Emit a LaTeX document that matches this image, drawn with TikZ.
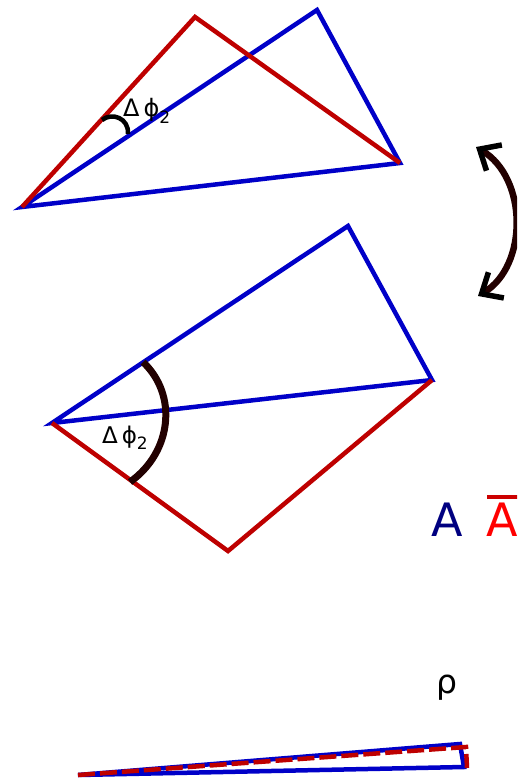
\documentclass[tikz,border=0pt]{standalone}
\usepackage{fontspec}
\setmainfont{DejaVu Sans}
\usetikzlibrary{arrows.meta}
\definecolor{lineblue}{RGB}{0,0,200}
\definecolor{linered}{RGB}{190,0,0}
\definecolor{navyA}{RGB}{0,0,128}
\definecolor{brightred}{RGB}{255,0,0}
\definecolor{barred}{RGB}{204,0,0}
\definecolor{arcdark}{RGB}{34,0,0}
\newcommand{\dphitext}[2]{{\fontsize{#1}{#1}\selectfont Δ\,ϕ\raisebox{-0.3em}{\fontsize{#2}{#2}\selectfont 2}}}

\begin{document}
\begin{tikzpicture}[x=1pt,y=-1pt,
        blueline/.style={draw=lineblue, line width=4.5pt},
        redline/.style={draw=linered, line width=4.5pt},
        reddash/.style={draw=linered, line width=4.5pt, dash pattern=on 17pt off 5pt},
        anglearc/.style={draw=black, line width=4.5pt},
        rotarrow/.style={draw=arcdark, line width=6.5pt, >={Straight Barb[length=17pt, width=30pt, line width=5.5pt, color=black]}, <->},
        lbl/.style={inner sep=0pt}
    ]
        \useasboundingbox (0,0) rectangle (517,779);
        \clip (0,0) rectangle (517,779);

        % Top triangles
        \coordinate (ta) at (22,207);
        \coordinate (tr) at (195,17);
        \coordinate (tb) at (317,10);
        \coordinate (tc) at (400,163);
        \draw[blueline] (ta) -- (tb) -- (tc) -- cycle;
        \draw[redline] (ta) -- (tr) -- (tc);
        \draw[anglearc] (102,120) .. controls (112,112) and (129,118) .. (128,134);
        \node[lbl, anchor=base west] (dtop) at (123,116) {\dphitext{24}{17}};

        % Rotation arrow
        \coordinate (rlow) at (478,296);
        \coordinate (rup) at (476,147);
        \draw[rotarrow] (rlow) .. controls (528,266) and (528,178) .. (rup);

        % Middle triangles
        \coordinate (ma) at (52,423);
        \coordinate (mb) at (348,226);
        \coordinate (mc) at (432,380);
        \coordinate (mr) at (228,551);
        \draw[blueline] (ma) -- (mb) -- (mc) -- cycle;
        \draw[redline] (ma) -- (mr) -- (mc);
        \draw[draw=arcdark, line width=7pt] (143,362) .. controls (178,395) and (172,452) .. (130,482);
        \node[lbl, anchor=base west] (dmid) at (102,443) {\dphitext{23}{17}};

        % Labels
        \node[lbl, anchor=base, text=navyA, font=\fontsize{46}{46}\selectfont] (amp) at (447,536) {A};
        \node[lbl, anchor=base, text=brightred, font=\fontsize{46}{46}\selectfont] (ampbar) at (502,536) {A};
        \draw[draw=barred, line width=4.5pt] (487,497) -- (520,497);
        \node[lbl, anchor=base, font=\fontsize{33}{33}\selectfont] (rho) at (447,693) {ρ};

        % Bottom thin triangle
        \coordinate (ba) at (78,775);
        \coordinate (bb) at (460,744);
        \coordinate (bc) at (464,767);
        \draw[blueline] (ba) -- (bb) -- (bc) -- cycle;
        \draw[reddash] (ba) -- (466,747) -- (467,768);
    \end{tikzpicture}
\end{document}
